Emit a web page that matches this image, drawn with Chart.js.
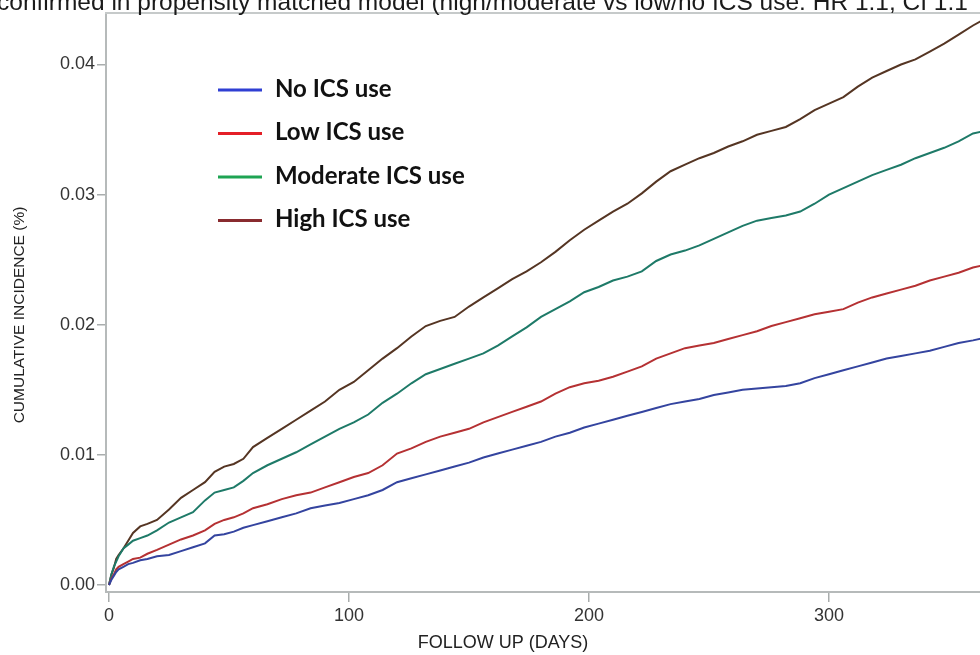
<!DOCTYPE html>
<html lang="en">
<head>
<meta charset="utf-8">
<title>Cumulative incidence by ICS use</title>
<script src="https://cdn.jsdelivr.net/npm/chart.js@4.4.0/dist/chart.umd.min.js"></script>
<style>
  html, body { margin: 0; padding: 0; background: #fff; overflow: hidden; }
  #wrap { position: relative; width: 1000px; height: 655px; }
</style>
</head>
<body>
<div id="wrap"><canvas id="incidenceChart" width="1000" height="655"></canvas></div>
<script>
// Texto del encabezado (recortado en la figura original)
const headingText = 'confirmed in propensity matched model (high/moderate vs low/no ICS use: HR 1.1, CI 1.1';

// Títulos de los ejes
const xAxisTitle = 'FOLLOW UP (DAYS)';
const yAxisTitle = 'CUMULATIVE INCIDENCE (%)';

// Nombres de las series
const seriesLabels = ['No ICS use', 'Low ICS use', 'Moderate ICS use', 'High ICS use'];

// Días de seguimiento (eje X)
const days = [0, 1, 2, 3, 4, 6, 8, 10, 13, 16, 20, 25, 30, 35, 40, 44, 48, 52, 56, 60,
  66, 72, 78, 84, 90, 96, 102, 108, 114, 120, 126, 132, 138, 144, 150, 156, 162, 168,
  174, 180, 186, 192, 198, 204, 210, 216, 222, 228, 234, 240, 246, 252, 258, 264, 270,
  276, 282, 288, 294, 300, 306, 312, 318, 324, 330, 336, 342, 348, 354, 360, 365];

// Incidencia acumulada
const noIcsUse = [0, 0.0004, 0.0007, 0.0010, 0.0012, 0.0014, 0.0016, 0.0017, 0.0019, 0.0020,
  0.0022, 0.0023, 0.0026, 0.0029, 0.0032, 0.0038, 0.0039, 0.0041, 0.0044, 0.0046,
  0.0049, 0.0052, 0.0055, 0.0059, 0.0061, 0.0063, 0.0066, 0.0069, 0.0073, 0.0079,
  0.0082, 0.0085, 0.0088, 0.0091, 0.0094, 0.0098, 0.0101, 0.0104, 0.0107, 0.0110,
  0.0114, 0.0117, 0.0121, 0.0124, 0.0127, 0.0130, 0.0133, 0.0136, 0.0139, 0.0141,
  0.0143, 0.0146, 0.0148, 0.0150, 0.0151, 0.0152, 0.0153, 0.0155, 0.0159, 0.0162,
  0.0165, 0.0168, 0.0171, 0.0174, 0.0176, 0.0178, 0.0180, 0.0183, 0.0186, 0.0188, 0.0190];

const lowIcsUse = [0, 0.0005, 0.0008, 0.0012, 0.0014, 0.0016, 0.0018, 0.0020, 0.0021, 0.0024,
  0.0027, 0.0031, 0.0035, 0.0038, 0.0042, 0.0047, 0.0050, 0.0052, 0.0055, 0.0059,
  0.0062, 0.0066, 0.0069, 0.0071, 0.0075, 0.0079, 0.0083, 0.0086, 0.0092, 0.0101,
  0.0105, 0.0110, 0.0114, 0.0117, 0.0120, 0.0125, 0.0129, 0.0133, 0.0137, 0.0141,
  0.0147, 0.0152, 0.0155, 0.0157, 0.0160, 0.0164, 0.0168, 0.0174, 0.0178, 0.0182,
  0.0184, 0.0186, 0.0189, 0.0192, 0.0195, 0.0199, 0.0202, 0.0205, 0.0208, 0.0210,
  0.0212, 0.0217, 0.0221, 0.0224, 0.0227, 0.0230, 0.0234, 0.0237, 0.0240, 0.0244, 0.0246];

const moderateIcsUse = [0, 0.0008, 0.0014, 0.0018, 0.0022, 0.0028, 0.0031, 0.0034, 0.0036, 0.0038,
  0.0042, 0.0048, 0.0052, 0.0056, 0.0065, 0.0071, 0.0073, 0.0075, 0.0080, 0.0086,
  0.0092, 0.0097, 0.0102, 0.0108, 0.0114, 0.0120, 0.0125, 0.0131, 0.0140, 0.0147,
  0.0155, 0.0162, 0.0166, 0.0170, 0.0174, 0.0178, 0.0184, 0.0191, 0.0198, 0.0206,
  0.0212, 0.0218, 0.0225, 0.0229, 0.0234, 0.0237, 0.0241, 0.0249, 0.0254, 0.0257,
  0.0261, 0.0266, 0.0271, 0.0276, 0.0280, 0.0282, 0.0284, 0.0287, 0.0293, 0.0300,
  0.0305, 0.0310, 0.0315, 0.0319, 0.0323, 0.0328, 0.0332, 0.0336, 0.0341, 0.0347, 0.0349];

const highIcsUse = [0, 0.0008, 0.0013, 0.0020, 0.0023, 0.0028, 0.0034, 0.0040, 0.0045, 0.0047,
  0.0050, 0.0058, 0.0067, 0.0073, 0.0079, 0.0087, 0.0091, 0.0093, 0.0097, 0.0106,
  0.0113, 0.0120, 0.0127, 0.0134, 0.0141, 0.0150, 0.0156, 0.0165, 0.0174, 0.0182,
  0.0191, 0.0199, 0.0203, 0.0206, 0.0214, 0.0221, 0.0228, 0.0235, 0.0241, 0.0248,
  0.0256, 0.0265, 0.0273, 0.0280, 0.0287, 0.0293, 0.0301, 0.0310, 0.0318, 0.0323,
  0.0328, 0.0332, 0.0337, 0.0341, 0.0346, 0.0349, 0.0352, 0.0358, 0.0365, 0.0370,
  0.0375, 0.0383, 0.0390, 0.0395, 0.0400, 0.0404, 0.0410, 0.0416, 0.0423, 0.0430, 0.0435];

// Marcas de los ejes
const xTickValues = [0, 100, 200, 300];
const yTickValues = [0, 0.01, 0.02, 0.03, 0.04];

document.addEventListener('DOMContentLoaded', function() {
    const canvas = document.getElementById('incidenceChart');
    if (!canvas) {
        return;
    }

    const toPoints = (values) => values.map((v, i) => ({ x: days[i], y: v }));
    const baseFont = '"Liberation Sans", Arial, sans-serif';

    // Colores de las curvas y de la leyenda (la leyenda original usa tonos más vivos)
    const lineColors = ['#34449f', '#b53133', '#1e7a68', '#553523'];
    const legendColors = ['#2f3fd3', '#e41f27', '#1ea453', '#892b2f'];
    const allSeries = [noIcsUse, lowIcsUse, moderateIcsUse, highIcsUse];

    // Plugin: marco superior, encabezado, títulos de ejes y leyenda
    const overlayPlugin = {
        id: 'overlay',
        beforeDatasetsDraw(chart) {
            const { ctx, chartArea } = chart;
            ctx.save();
            ctx.strokeStyle = '#c6caca';
            ctx.lineWidth = 2;
            ctx.beginPath();
            ctx.moveTo(chartArea.left - 1, chartArea.top);
            ctx.lineTo(chart.width, chartArea.top);
            ctx.stroke();
            ctx.restore();
        },
        afterDraw(chart) {
            const ctx = chart.ctx;
            ctx.save();

            // Encabezado cortado arriba
            ctx.fillStyle = '#1a1a1a';
            ctx.font = '24.5px ' + baseFont;
            ctx.textBaseline = 'alphabetic';
            ctx.textAlign = 'left';
            ctx.fillText(headingText, -3, 10);

            // Títulos de los ejes (la figura original está recortada, no van centrados)
            ctx.fillStyle = '#222';
            ctx.font = '18px ' + baseFont;
            ctx.textAlign = 'center';
            ctx.textBaseline = 'middle';
            ctx.fillText(xAxisTitle, 503, 643);

            ctx.save();
            ctx.translate(20, 315);
            ctx.rotate(-Math.PI / 2);
            ctx.font = '15.5px ' + baseFont;
            ctx.fillText(yAxisTitle, 0, 0);
            ctx.restore();

            // Leyenda dentro del área de la gráfica
            ctx.font = 'bold 24px Lato, "Open Sans", sans-serif';
            ctx.textAlign = 'left';
            ctx.textBaseline = 'middle';
            seriesLabels.forEach((label, i) => {
                const y = 89 + i * 43.5;
                ctx.strokeStyle = legendColors[i];
                ctx.lineWidth = 3;
                ctx.beginPath();
                ctx.moveTo(218, y + 1);
                ctx.lineTo(262, y + 1);
                ctx.stroke();
                ctx.fillStyle = '#111';
                ctx.fillText(label, 275, y);
            });
            ctx.restore();
        }
    };

    new Chart(canvas.getContext('2d'), {
        type: 'line',
        data: {
            datasets: allSeries.map((values, i) => ({
                label: seriesLabels[i],
                data: toPoints(values),
                borderColor: lineColors[i],
                borderWidth: 2,
                pointRadius: 0,
                tension: 0,
                fill: false
            }))
        },
        options: {
            responsive: false,
            animation: false,
            events: [],
            layout: {
                padding: { top: 13, right: 3, bottom: 0, left: 0 }
            },
            plugins: {
                legend: { display: false },
                tooltip: { enabled: false }
            },
            scales: {
                x: {
                    type: 'linear',
                    min: -1.25,
                    max: 370,
                    afterBuildTicks: (axis) => { axis.ticks = xTickValues.map(v => ({ value: v })); },
                    afterFit: (scale) => { scale.height = 63; },
                    ticks: {
                        color: '#333',
                        padding: 3,
                        maxRotation: 0,
                        autoSkip: false,
                        font: { family: baseFont, size: 18 },
                        callback: (value) => String(value)
                    },
                    grid: {
                        drawOnChartArea: false,
                        drawTicks: true,
                        tickLength: 10,
                        color: '#a9adad',
                        lineWidth: 1.5
                    },
                    border: { color: '#b6baba', width: 2 }
                },
                y: {
                    min: -0.00054,
                    max: 0.04396,
                    afterBuildTicks: (axis) => { axis.ticks = yTickValues.map(v => ({ value: v })); },
                    afterFit: (scale) => { scale.width = 106; },
                    ticks: {
                        color: '#333',
                        padding: 2,
                        font: { family: baseFont, size: 18 },
                        callback: (value) => Number(value).toFixed(2)
                    },
                    grid: {
                        drawOnChartArea: false,
                        drawTicks: true,
                        tickLength: 9,
                        color: '#a9adad',
                        lineWidth: 1.5
                    },
                    border: { color: '#b6baba', width: 2 }
                }
            }
        },
        plugins: [overlayPlugin]
    });
});
</script>
</body>
</html>
